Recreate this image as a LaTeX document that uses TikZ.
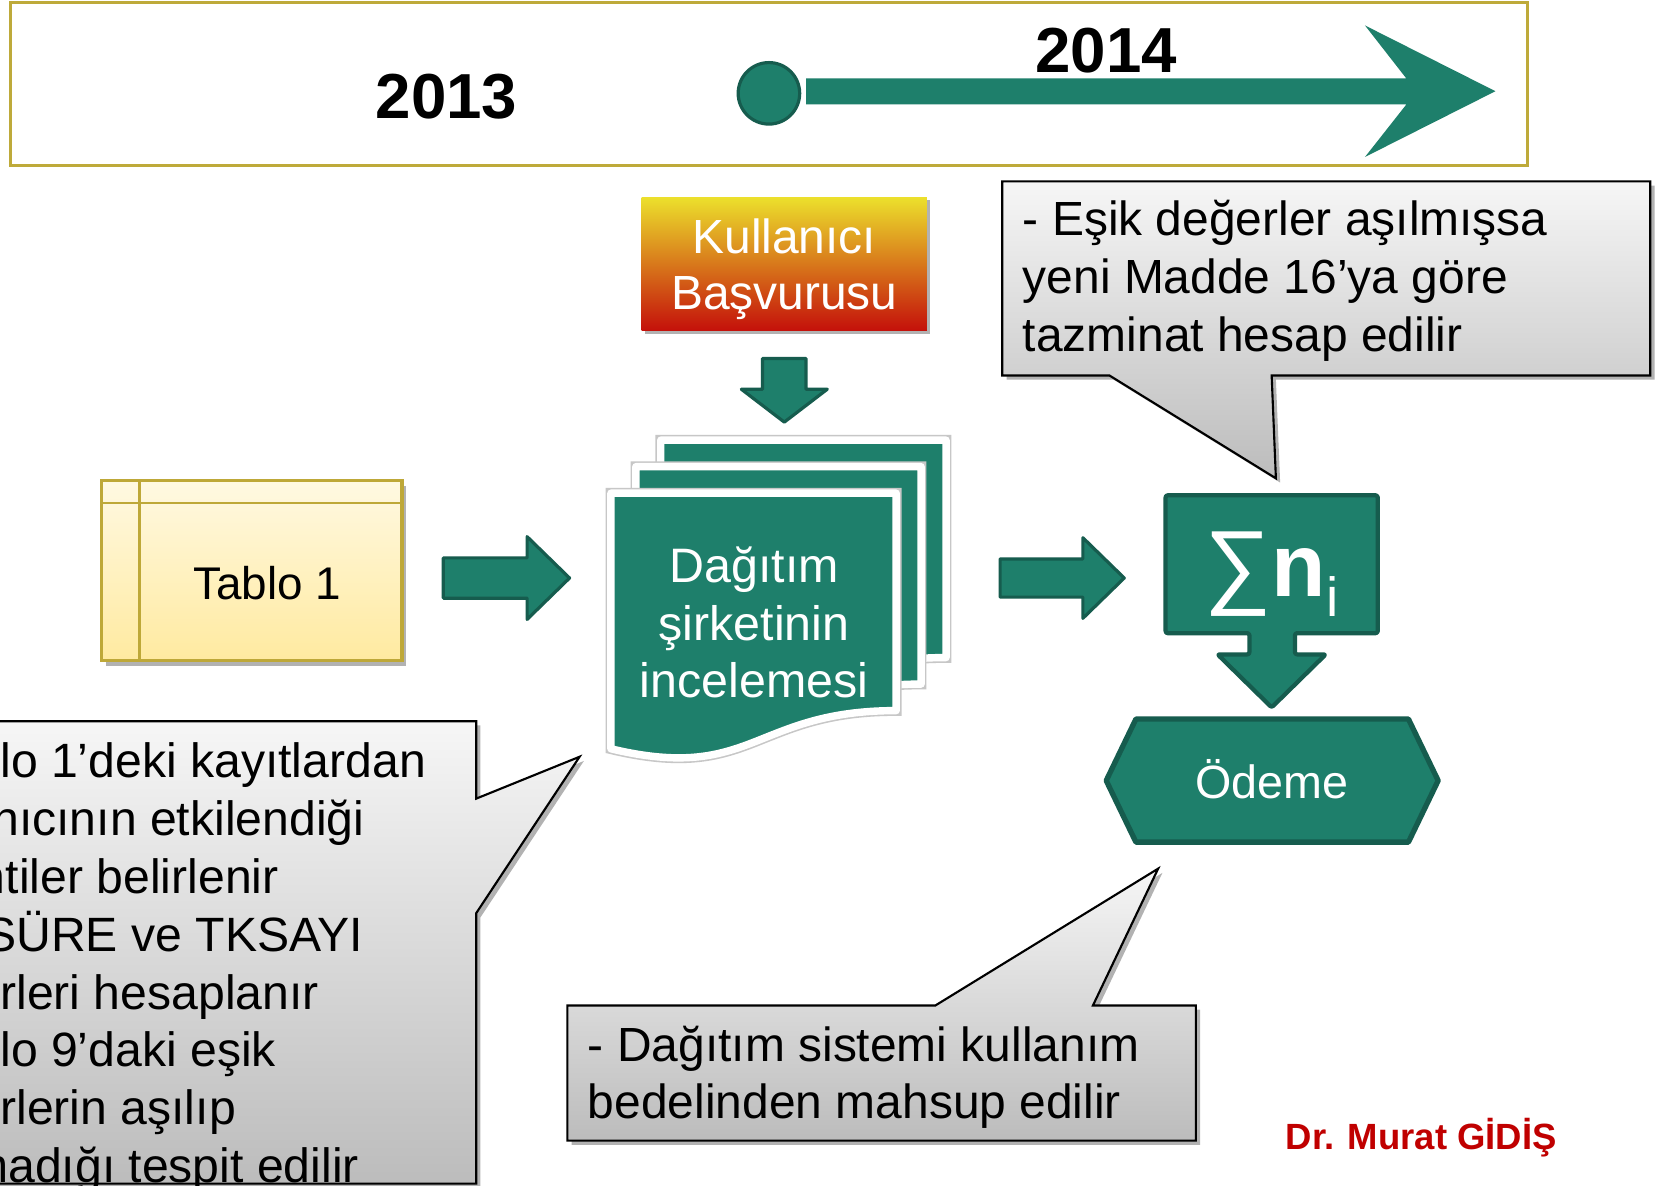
\documentclass[tikz,border=0pt]{standalone}
\usepackage{fontspec}
\setmainfont{Liberation Sans}
\usetikzlibrary{shadows}
\definecolor{tealfill}{RGB}{30,127,107}
\definecolor{tealline}{RGB}{22,92,78}
\definecolor{goldline}{RGB}{190,170,58}
\definecolor{drred}{RGB}{192,0,0}
\definecolor{tabtop}{RGB}{255,249,226}
\definecolor{tabbot}{RGB}{255,234,160}
\definecolor{tabline}{RGB}{190,168,56}
\definecolor{calltop}{RGB}{246,246,246}
\definecolor{callbot}{RGB}{188,188,188}
\definecolor{kyellow}{RGB}{236,224,44}
\definecolor{korange}{RGB}{226,140,32}
\definecolor{kred}{RGB}{196,16,10}
\newcommand{\linesL}[1]{\vtop{\halign{##\hfil\cr#1\crcr}}}
\newcommand{\linesC}[1]{\vtop{\halign{\hfil##\hfil\cr#1\crcr}}}
\tikzset{
  bodytext/.style={font=\fontsize{22.8}{27.25}\selectfont, inner sep=0pt},
  yeartext/.style={font=\fontsize{30}{36}\selectfont\bfseries, inner sep=0pt, anchor=base},
  tealshape/.style={fill=tealfill, draw=tealline, line width=1.5pt, line join=round},
  calloutshape/.style={top color=calltop, bottom color=callbot, draw=black, line width=1pt, line join=miter,
    drop shadow={shadow xshift=2pt, shadow yshift=-2pt, opacity=0.3, fill=black}},
  docshape/.style={fill=tealfill, draw=white, line width=3.5pt, line join=round,
    preaction={draw=black!22, line width=5pt},
    drop shadow={shadow xshift=1pt, shadow yshift=-1pt, opacity=0.2, fill=black}},
}
\begin{document}
\begin{tikzpicture}[x=0.5pt,y=-0.5pt]
\useasboundingbox (0,0) rectangle (1568,1118);
\clip (0,0) rectangle (1568,1118);
\fill[white] (0,0) rectangle (1568,1118);

% ---- timeline frame ----
\draw[goldline, line width=1.6pt] (10,2.5) rectangle (1440,156);
\node[yeartext] (y2013) at (421,111.5) {2013};
\node[yeartext] (y2014) at (1043,68.5) {2014};
\fill[tealfill] (760,74) -- (1326,74) -- (1287,24) -- (1410,86) -- (1287,148) -- (1326,98.5) -- (760,98.5) -- cycle;
\node[circle, tealshape, minimum size=29pt, inner sep=0pt] (startdot) at (725,88) {};

% ---- Kullanici Basvurusu ----
\path[top color=kyellow, middle color=korange, bottom color=kred,
  drop shadow={shadow xshift=1.5pt, shadow yshift=-1.5pt, opacity=0.3, fill=black}] (605,186) rectangle (874,312);
\node[bodytext, font=\fontsize{22.6}{26.5}\selectfont, text=white, anchor=base] (kbtext) at (739.5,239) {\linesC{Kullanıcı\cr Başvurusu}};
\path[tealshape] (719,338) -- (760,338) -- (760,367) -- (780,367) -- (739.5,398) -- (699,367) -- (719,367) -- cycle;

% ---- document stack ----
\path[docshape, shift={(47,-50)}] (576,465) -- (845,465) -- (845,670) .. controls (710,670) and (710,738) .. (576,706) -- cycle;
\path[docshape, shift={(23.5,-25)}] (576,465) -- (845,465) -- (845,670) .. controls (710,670) and (710,738) .. (576,706) -- cycle;
\path[docshape] (576,465) -- (845,465) -- (845,670) .. controls (710,670) and (710,738) .. (576,706) -- cycle;
\node[bodytext, text=white, anchor=base] (doctext) at (711,549) {\linesC{Dağıtım\cr şirketinin\cr incelemesi}};

% ---- Tablo 1 ----
\path[top color=tabtop, bottom color=tabbot, draw=tabline, line width=1.5pt,
  drop shadow={shadow xshift=2pt, shadow yshift=-2.5pt, opacity=0.3, fill=black}] (96,453) rectangle (379,623);
\draw[tabline, line width=1pt] (96,474.5) -- (379,474.5);
\draw[tabline, line width=1pt] (131.5,453) -- (131.5,623);
\node[bodytext, font=\fontsize{21.6}{26}\selectfont, anchor=base] (tablo) at (252,565) {Tablo 1};

% ---- right arrows ----
\path[tealshape] (418,526) -- (497,526) -- (497,506) -- (537,545) -- (497,584) -- (497,564) -- (418,564) -- cycle;
\path[tealshape] (943,527) -- (1021,527) -- (1021,507) -- (1060,545) -- (1021,583) -- (1021,563) -- (943,563) -- cycle;

% ---- sum box ----
\path[tealshape, line width=2pt, rounded corners=1pt] (1099,467) -- (1299,467) -- (1299,597) -- (1221,597) -- (1221,617) -- (1250,617) -- (1199,667) -- (1148,617) -- (1178,617) -- (1178,597) -- (1099,597) -- cycle;
\node[inner sep=0pt, anchor=base, text=white] (sumtext) at (1199,562.6)
  {\fontsize{44.3}{48}\selectfont ∑{\fontsize{42}{48}\selectfont\textbf{n}}\raisebox{-9.4pt}{\fontsize{26}{30}\selectfont i}};

% ---- Odeme ----
\path[tealshape, line width=2.5pt] (1043,736) -- (1071,678) -- (1328,678) -- (1356,736) -- (1328,794) -- (1071,794) -- cycle;
\node[bodytext, font=\fontsize{22}{26}\selectfont, text=white, anchor=base] (odeme) at (1199,753) {Ödeme};

% ---- callout top right ----
\path[calloutshape] (945,171) -- (1556,171) -- (1556,354) -- (1199,354) -- (1203,451) -- (1046,354) -- (945,354) -- cycle;
\node[bodytext, anchor=base west, font=\fontsize{22.6}{27.5}\selectfont] (ctext1) at (964,221.6)
  {\linesL{- Eşik değerler aşılmışsa\cr yeni Madde 16’ya göre\cr tazminat hesap edilir}};

% ---- callout left ----
\path[calloutshape] (-20,680) -- (449,680) -- (449,753) -- (546.5,713.5) -- (449,861) -- (449,1116) -- (-20,1116) -- cycle;
\node[bodytext, anchor=base west, font=\fontsize{22.7}{27.3}\selectfont] (ctext2) at (-101,733)
  {\linesL{- Tablo 1’deki kayıtlardan\cr kullanıcının etkilendiği\cr kesintiler belirlenir\cr - TKSÜRE ve TKSAYI\cr değerleri hesaplanır\cr - Tablo 9’daki eşik\cr değerlerin aşılıp\cr aşılmadığı tespit edilir}};

% ---- callout bottom ----
\path[calloutshape] (535,948) -- (882,948) -- (1092,819) -- (1030.5,948) -- (1127.5,948) -- (1127.5,1075.5) -- (535,1075.5) -- cycle;
\node[bodytext, anchor=base west, font=\fontsize{22.6}{26.7}\selectfont] (ctext3) at (554,1001)
  {\linesL{- Dağıtım sistemi kullanım\cr bedelinden mahsup edilir}};

% ---- signature ----
\node[inner sep=0pt, anchor=base, text=drred, font=\fontsize{17.2}{20}\selectfont\bfseries] (sign) at (1340,1083.7) {Dr. Murat GİDİŞ};
\end{tikzpicture}
\end{document}
